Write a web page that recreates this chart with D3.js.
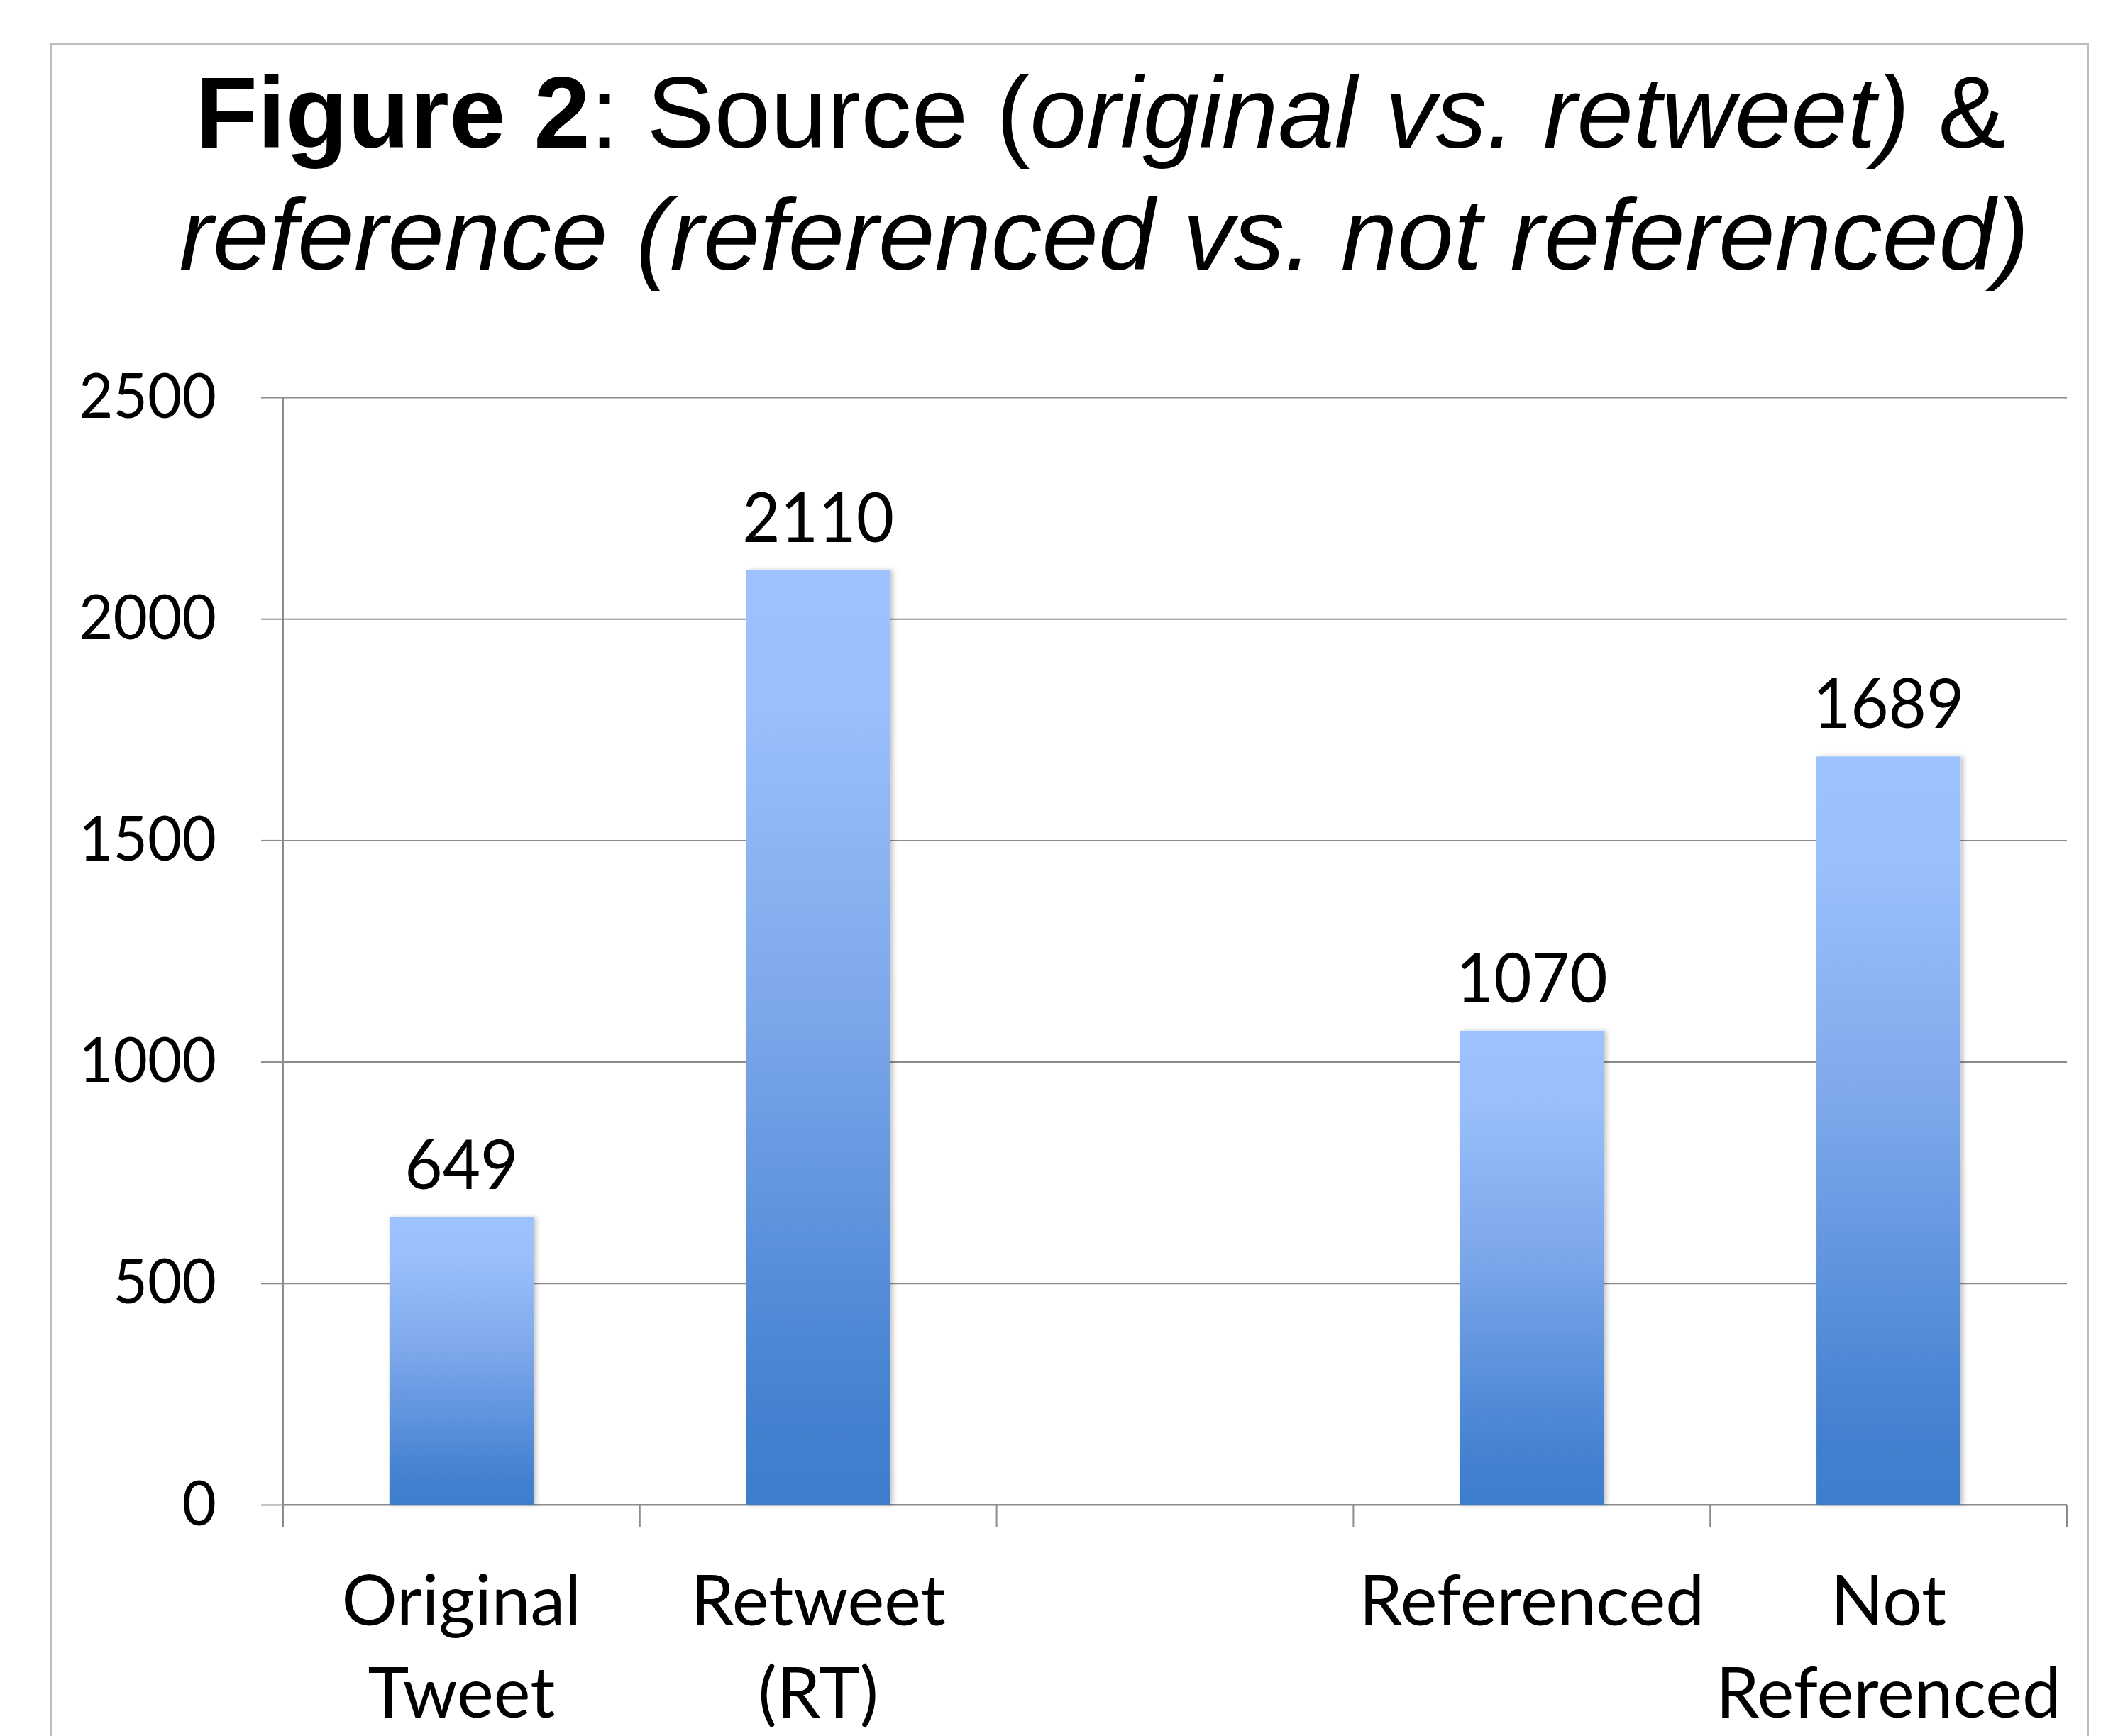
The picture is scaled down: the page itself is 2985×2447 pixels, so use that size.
<!DOCTYPE html>
<html>
<head>
<meta charset="utf-8">
<script src="https://cdn.jsdelivr.net/npm/d3@7"></script>
<style>
  html, body { margin: 0; padding: 0; background: #fff; }
  svg { display: block; }
</style>
</head>
<body>
<script>
// ---- data ----
const categories = ["Original Tweet", "Retweet (RT)", "", "Referenced", "Not Referenced"];
const values = [649, 2110, null, 1070, 1689];
const yTicks = [0, 500, 1000, 1500, 2000, 2500];
const titleLine1 = [
  { text: "Figure 2", weight: "bold", style: "normal" },
  { text: ": Source (", weight: "normal", style: "normal" },
  { text: "original vs. retweet)", weight: "normal", style: "italic" },
  { text: " &", weight: "normal", style: "normal" }
];
const titleLine2 = "reference (referenced vs. not referenced)";

// ---- layout ----
const W = 2985, H = 2447;
const plotL = 399, plotR = 2913, plotT = 560, plotB = 2121;
const calibri = "Lato, 'Open Sans', sans-serif";
const sxTick = 0.95, sxVal = 0.95, sxCat = 1.0;

const svg = d3.select("body").append("svg").attr("width", W).attr("height", H);

const defs = svg.append("defs");
const grad = defs.append("linearGradient").attr("id", "barGrad")
  .attr("x1", 0).attr("y1", 0).attr("x2", 0).attr("y2", 1);
[[0, "#9cc2ff"], [0.15, "#99bffc"], [0.45, "#7fa9ec"], [0.75, "#578ed9"], [0.9, "#4481d0"], [1, "#3d7ecc"]]
  .forEach(([o, c]) => grad.append("stop").attr("offset", o).attr("stop-color", c));
const flt = defs.append("filter").attr("id", "shadow").attr("x", "-10%").attr("y", "-5%").attr("width", "125%").attr("height", "110%");
flt.append("feDropShadow").attr("dx", 4).attr("dy", 0).attr("stdDeviation", 3).attr("flood-color", "#000").attr("flood-opacity", 0.22);

// outer border
svg.append("rect").attr("x", 72).attr("y", 62).attr("width", 2943 - 72).attr("height", H)
  .attr("fill", "#fff").attr("stroke", "#bdbdbd").attr("stroke-width", 2);

// title
const title = svg.append("g").attr("font-family", "'Liberation Sans', Arial, sans-serif").attr("font-size", 143).attr("fill", "#000");
const t1 = title.append("text").attr("x", 1551).attr("y", 208).attr("text-anchor", "middle");
titleLine1.forEach(p => t1.append("tspan").attr("font-weight", p.weight).attr("font-style", p.style).text(p.text));
title.append("text").attr("x", 1556).attr("y", 380).attr("text-anchor", "middle")
  .attr("font-style", "italic").text(titleLine2);

// scales
const x = d3.scaleBand().domain(categories).range([plotL, plotR]).paddingInner(0).paddingOuter(0);
const y = d3.scaleLinear().domain([0, 2500]).range([plotB, plotT]);

// gridlines
const grid = svg.append("g").attr("transform", `translate(${plotL},0)`)
  .call(d3.axisLeft(y).tickValues(yTicks).tickSize(-(plotR - plotL)).tickFormat(""));
grid.select(".domain").remove();
grid.selectAll("line").attr("stroke", "#8c8c8c").attr("stroke-width", 2);

// y axis
const yAxis = svg.append("g").attr("transform", `translate(${plotL},0)`)
  .call(d3.axisLeft(y).tickValues(yTicks).tickSize(31).tickPadding(0).tickFormat(d3.format("d")));
yAxis.select(".domain").attr("stroke", "#8c8c8c").attr("stroke-width", 2)
  .attr("d", `M0,${plotT}V${plotB + 32}`);
yAxis.selectAll(".tick line").attr("stroke", "#8c8c8c").attr("stroke-width", 2);
yAxis.selectAll(".tick text").each(function () {
  d3.select(this).attr("x", null).attr("dy", null)
    .attr("transform", `translate(-94,28) scale(${sxTick},1)`)
    .attr("text-anchor", "end")
    .attr("font-family", calibri).attr("font-size", 88).attr("fill", "#000");
});

// x axis line + ticks at band boundaries
const xAxis = svg.append("g").attr("transform", `translate(0,${plotB})`)
  .call(d3.axisBottom(x).tickSize(0).tickFormat(""));
xAxis.select(".domain").attr("stroke", "#8c8c8c").attr("stroke-width", 2).attr("d", `M${plotL},0H${plotR}`);
const bounds = categories.map(c => x(c)).concat([x.range()[1]]);
xAxis.selectAll(".bound").data(bounds).enter().append("line").attr("class", "bound")
  .attr("x1", d => d).attr("x2", d => d).attr("y1", 0).attr("y2", 32)
  .attr("stroke", "#8c8c8c").attr("stroke-width", 2);

// bars
const data = categories.map((c, i) => ({ c, v: values[i] })).filter(d => d.v != null);
const bw = x.bandwidth() * 0.404;
svg.append("g").selectAll("rect").data(data).enter().append("rect")
  .attr("x", d => x(d.c) + x.bandwidth() / 2 - bw / 2)
  .attr("y", d => y(d.v))
  .attr("width", bw)
  .attr("height", d => y(0) - y(d.v))
  .attr("fill", "url(#barGrad)")
  .attr("filter", "url(#shadow)");

// value labels
svg.append("g").selectAll("text").data(data).enter().append("text")
  .attr("transform", d => `translate(${x(d.c) + x.bandwidth() / 2},${y(d.v) - 40}) scale(${sxVal},1)`)
  .attr("text-anchor", "middle")
  .attr("font-family", calibri).attr("font-size", 97).attr("fill", "#000")
  .text(d => d.v);

// category labels
const cat = svg.append("g").selectAll("g").data(categories).enter().append("g");
cat.each(function (c) {
  const words = c ? c.split(" ") : [];
  d3.select(this).selectAll("text").data(words).enter().append("text")
    .attr("transform", (w, j) => `translate(${x(c) + x.bandwidth() / 2},${2291 + j * 130}) scale(${sxCat},1)`)
    .attr("text-anchor", "middle")
    .attr("font-family", calibri).attr("font-size", 98).attr("fill", "#000")
    .text(w => w);
});
</script>
</body>
</html>
